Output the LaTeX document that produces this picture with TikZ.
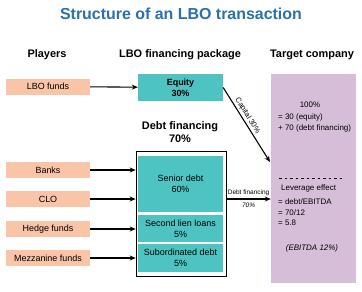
\documentclass[tikz,border=0pt]{standalone}
\usepackage{fontspec}
\setmainfont{Liberation Sans}
\usetikzlibrary{arrows.meta,positioning}
\definecolor{lboteal}{RGB}{78,196,194}
\definecolor{lbosalmon}{RGB}{249,196,168}
\definecolor{lbolilac}{RGB}{214,190,216}
\definecolor{lboblue}{RGB}{42,112,172}

\begin{document}
\begin{tikzpicture}[x=1bp, y=-1bp,
  playerbox/.style={fill=lbosalmon, minimum width=84bp, minimum height=16bp, inner sep=0pt, font=\fontsize{9}{10}\selectfont},
  tealbox/.style={fill=lboteal, minimum width=85bp, align=center, inner sep=0pt, font=\fontsize{9}{11}\selectfont},
  hdr/.style={font=\fontsize{11}{13}\selectfont\bfseries, align=center},
  tgttext/.style={anchor=west, inner sep=0pt, font=\fontsize{8}{9}\selectfont},
  flow/.style={-{Stealth[length=6bp, width=5bp]}, line width=1.1pt}]
  \useasboundingbox (0,0) rectangle (362,292);

  % Title and column headers
  \node[font=\fontsize{16}{18}\selectfont\bfseries, text=lboblue] (title) at (181,14) {Structure of an LBO transaction};
  \node[hdr] (hplayers) at (47,55) {Players};
  \node[hdr] (hpackage) at (180,55) {LBO financing package};
  \node[hdr] (htarget) at (312,55) {Target company};

  % Players
  \node[playerbox] (lbofunds) at (48,86.5) {LBO funds};
  \node[playerbox] (banks) at (48,170) {Banks};
  \node[playerbox] (clo) at (48,199) {CLO};
  \node[playerbox] (hedge) at (48,229) {Hedge funds};
  \node[playerbox] (mezz) at (48,258) {Mezzanine funds};

  % Financing package
  \node[tealbox, minimum height=27bp, font=\fontsize{9}{11}\selectfont\bfseries] (equity) at (180.5,87.5) {Equity\\30\%};
  \node[hdr] (hdebt) at (180,132) {Debt financing\\70\%};
  \node[draw=black, fill=white, line width=0.6pt, minimum width=90bp, minimum height=125bp] (debt) at (181,213.5) {};
  \node[tealbox, minimum height=56bp] (senior) at (180.5,184) {Senior debt\\60\%};
  \node[tealbox, minimum height=27bp] (lien) at (180.5,228.5) {Second lien loans\\5\%};
  \node[tealbox, minimum height=28bp] (subord) at (180.5,258) {Subordinated debt\\5\%};

  % Target company
  \node[fill=lbolilac, minimum width=85bp, minimum height=209bp, inner sep=0pt] (target) at (313.5,178.5) {};
  \node[font=\fontsize{8}{9}\selectfont, inner sep=0pt] (total) at (310,105) {100\%};
  \node[tgttext] (eqline) at (278,117) {= 30 (equity)};
  \node[tgttext] (debtline) at (278,128) {+ 70 (debt financing)};
  \draw[dash pattern=on 2.5bp off 3bp, line width=0.5pt] (279,178) -- (343,178);
  \node[tgttext] (leverage) at (281,188) {Leverage effect};
  \node[tgttext] (ratio) at (278,202) {= debt/EBITDA};
  \node[tgttext] (ratioval) at (278,213) {= 70/12};
  \node[tgttext] (result) at (278,223) {= 5.8};
  \node[font=\fontsize{8}{9}\selectfont\itshape, inner sep=0pt] (ebitda) at (312,248) {(EBITDA 12\%)};

  % Flows
  \coordinate (capin) at (270,162);
  \draw[flow] (lbofunds) -- (equity);
  \foreach \p in {banks,clo,hedge,mezz}
    \draw[flow] (\p.east) -- (\p.east -| debt.west);
  \draw[flow] (equity.east) -- node[sloped, above, pos=0.42, font=\fontsize{7.5}{8}\selectfont, inner sep=1.5pt] (caplabel) {Capital 30\%} (capin);
  \draw[flow] (clo -| debt.east) -- node[above, font=\fontsize{6.5}{7}\selectfont, inner sep=3pt] (dflabel) {Debt financing}
    node[below, font=\fontsize{6.5}{7}\selectfont\itshape, inner sep=3pt] (dfpct) {70\%} (clo -| target.west);
\end{tikzpicture}
\end{document}
